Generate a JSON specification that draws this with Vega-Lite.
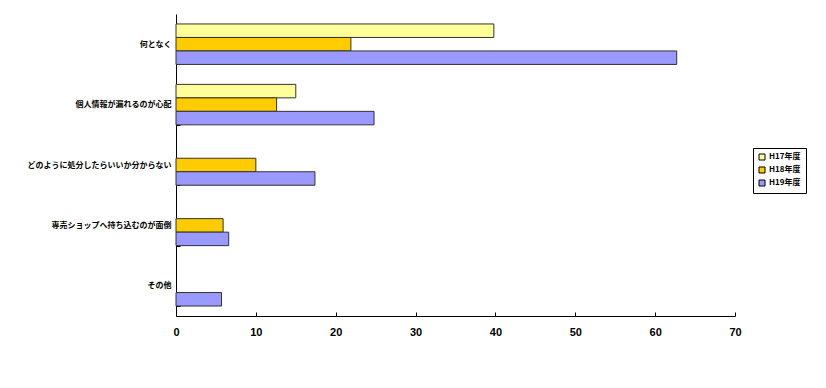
{
  "$schema": "https://vega.github.io/schema/vega-lite/v6.json",
  "autosize": {"type": "none"},
  "padding": {"left": 176, "top": 14, "right": 91, "bottom": 72},
  "width": 559,
  "height": 302,
  "background": "white",
  "data": {
    "values": [
      {"item": "何となく", "year": "H17年度", "value": 39.8},
      {"item": "何となく", "year": "H18年度", "value": 21.9},
      {"item": "何となく", "year": "H19年度", "value": 62.7},
      {"item": "個人情報が漏れるのが心配", "year": "H17年度", "value": 15.0},
      {"item": "個人情報が漏れるのが心配", "year": "H18年度", "value": 12.6},
      {"item": "個人情報が漏れるのが心配", "year": "H19年度", "value": 24.8},
      {"item": "どのように処分したらいいか分からない", "year": "H18年度", "value": 10.0},
      {"item": "どのように処分したらいいか分からない", "year": "H19年度", "value": 17.4},
      {"item": "専売ショップへ持ち込むのが面倒", "year": "H18年度", "value": 5.9},
      {"item": "専売ショップへ持ち込むのが面倒", "year": "H19年度", "value": 6.6},
      {"item": "その他", "year": "H19年度", "value": 5.7}
    ]
  },
  "config": {
    "view": {"stroke": null},
    "font": "Noto Sans CJK JP"
  },
  "mark": {"type": "bar", "stroke": "#333333", "strokeWidth": 1},
  "encoding": {
    "y": {
      "field": "item",
      "type": "nominal",
      "sort": ["何となく", "個人情報が漏れるのが心配", "どのように処分したらいいか分からない", "専売ショップへ持ち込むのが面倒", "その他"],
      "scale": {"paddingInner": 0.33, "paddingOuter": 0.165},
      "axis": {
        "title": null,
        "domainColor": "black",
        "tickColor": "black",
        "tickBand": "extent",
        "tickSize": -4,
        "labelFont": "Noto Sans CJK JP",
        "labelFontSize": 8,
        "labelFontWeight": "bold",
        "labelColor": "black",
        "labelPadding": 9,
        "labelLimit": 200
      }
    },
    "yOffset": {
      "field": "year",
      "type": "nominal",
      "scale": {"domain": ["H17年度", "H18年度", "H19年度"], "paddingInner": 0, "paddingOuter": 0}
    },
    "x": {
      "field": "value",
      "type": "quantitative",
      "scale": {"domain": [0, 70], "nice": false},
      "axis": {
        "title": null,
        "values": [0, 10, 20, 30, 40, 50, 60, 70],
        "grid": false,
        "domainColor": "black",
        "tickColor": "black",
        "tickSize": -4,
        "labelFont": "Liberation Sans",
        "labelFontSize": 11,
        "labelFontWeight": "bold",
        "labelColor": "black",
        "labelPadding": 14,
        "labelFlush": false
      }
    },
    "color": {
      "field": "year",
      "type": "nominal",
      "scale": {"domain": ["H17年度", "H18年度", "H19年度"], "range": ["#FFFF99", "#FFCC00", "#9999FF"]},
      "legend": {
        "title": null,
        "orient": "none",
        "legendX": 577,
        "legendY": 134,
        "strokeColor": "black",
        "padding": 5,
        "symbolType": "square",
        "symbolSize": 36,
        "symbolStrokeColor": "black",
        "symbolStrokeWidth": 1,
        "labelFont": "Noto Sans CJK JP",
        "labelFontSize": 8,
        "labelFontWeight": "bold",
        "labelColor": "black",
        "rowPadding": 3,
        "labelOffset": 3
      }
    }
  }
}
